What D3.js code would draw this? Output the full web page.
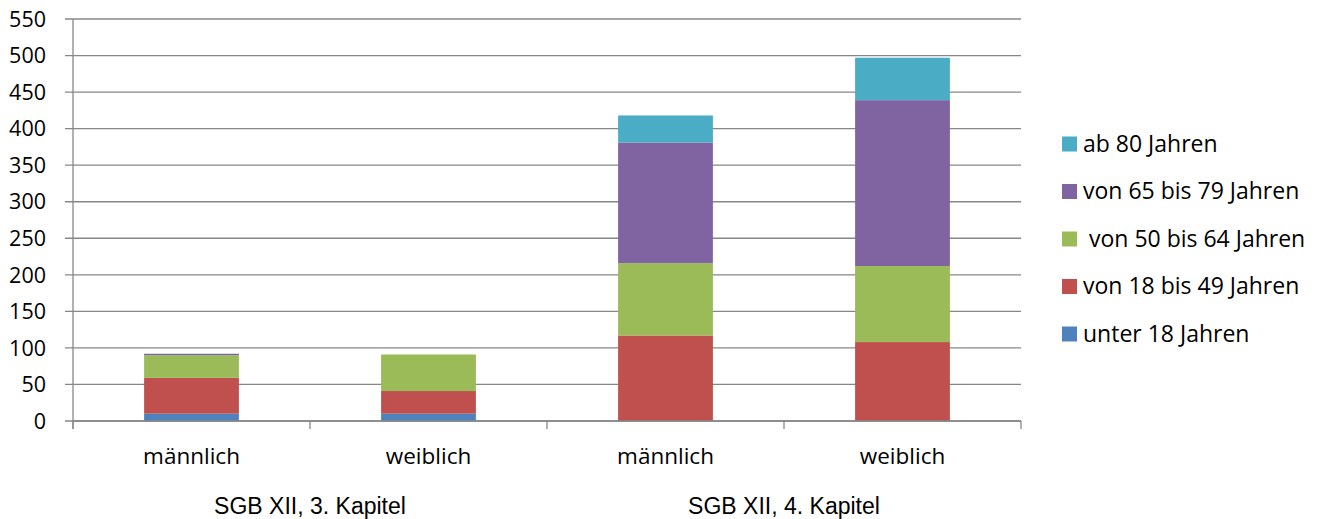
<!DOCTYPE html>
<html><head><meta charset="utf-8">
<script src="https://cdn.jsdelivr.net/npm/d3@7"></script>
<style>body{margin:0;background:#fff}</style>
</head><body>
<svg id="c" width="1326" height="519"></svg>
<script>
const categories = ["männlich","weiblich","männlich","weiblich"];
const groups = ["SGB XII, 3. Kapitel","SGB XII, 4. Kapitel"];
const seriesNames = ["unter 18 Jahren","von 18 bis 49 Jahren"," von 50 bis 64 Jahren","von 65 bis 79 Jahren","ab 80 Jahren"];
const unter18 = [10, 10, 0, 0];
const von18bis49 = [49, 31, 117, 108];
const von50bis64 = [31, 50, 99, 104];
const von65bis79 = [2, 0, 165, 227];
const ab80 = [0, 0, 37, 58];
const yTicks = [0,50,100,150,200,250,300,350,400,450,500,550];
const colors = ["#4F81BD","#C0504D","#9BBB59","#8064A2","#4BACC6"];

const seriesVals = [unter18, von18bis49, von50bis64, von65bis79, ab80];
const data = categories.map((c,i)=>{const o={idx:i}; seriesNames.forEach((s,j)=>o["s"+j]=seriesVals[j][i]); return o;});
const keys = seriesNames.map((s,j)=>"s"+j);
const stack = d3.stack().keys(keys)(data);

const svg = d3.select("#c");
const L=73, R=1021, T=19, B=421;
const x = d3.scaleBand().domain(d3.range(categories.length)).range([L,R]).paddingInner(0.6).paddingOuter(0.3);
const y = d3.scaleLinear().domain([0,550]).range([B,T]);
const sans = "'Open Sans', Lato, sans-serif";

// gridlines
svg.append("g").selectAll("line").data(yTicks).join("line")
  .attr("x1",L-8).attr("x2",R).attr("y1",d=>y(d)).attr("y2",d=>y(d))
  .attr("stroke","#878787").attr("stroke-width",1.3);

// y labels
svg.append("g").selectAll("text").data(yTicks).join("text")
  .attr("x",46).attr("y",d=>y(d)).attr("dy","0.36em").attr("text-anchor","end")
  .attr("font-family",sans).attr("font-size",21.5).attr("fill","#000")
  .text(d=>d);

// bars
svg.append("g").selectAll("g").data(stack).join("g").attr("fill",(d,i)=>colors[i])
  .selectAll("rect").data(d=>d).join("rect")
  .attr("x",(d,i)=>x(i)).attr("width",x.bandwidth())
  .attr("y",d=>y(d[1])).attr("height",d=>Math.max(0,y(d[0])-y(d[1])));

// axes lines
svg.append("line").attr("x1",L).attr("x2",L).attr("y1",T).attr("y2",B+8).attr("stroke","#878787").attr("stroke-width",1.3);
svg.append("line").attr("x1",L).attr("x2",R).attr("y1",B).attr("y2",B).attr("stroke","#878787").attr("stroke-width",1.3);
const step = (R-L)/categories.length;
svg.append("g").selectAll("line").data(d3.range(categories.length+1)).join("line")
  .attr("x1",d=>L+d*step).attr("x2",d=>L+d*step).attr("y1",B).attr("y2",B+8)
  .attr("stroke","#878787").attr("stroke-width",1.3);

// x labels
svg.append("g").selectAll("text").data(categories).join("text")
  .attr("x",(d,i)=>x(i)+x.bandwidth()/2).attr("y",464).attr("text-anchor","middle")
  .attr("font-family",sans).attr("font-size",22.5)
  .text(d=>d);
svg.append("g").selectAll("text").data(groups).join("text")
  .attr("x",(d,i)=>L+step*(2*i+1)).attr("y",514).attr("text-anchor","middle")
  .attr("font-family","'Liberation Sans', Arial, sans-serif").attr("font-size",23)
  .text(d=>d);

// legend (reverse order)
const legOrder = d3.range(seriesNames.length).reverse();
const lg = svg.append("g").selectAll("g").data(legOrder).join("g")
  .attr("transform",(d,i)=>`translate(1062,${144+i*47.5})`);
lg.append("rect").attr("x",0).attr("y",-7.5).attr("width",15).attr("height",15).attr("fill",d=>colors[d]);
lg.append("text").attr("x",21).attr("dy","0.34em")
  .attr("font-family",sans).attr("font-size",23)
  .style("white-space","pre")
  .text(d=>seriesNames[d]);
</script>
</body></html>
